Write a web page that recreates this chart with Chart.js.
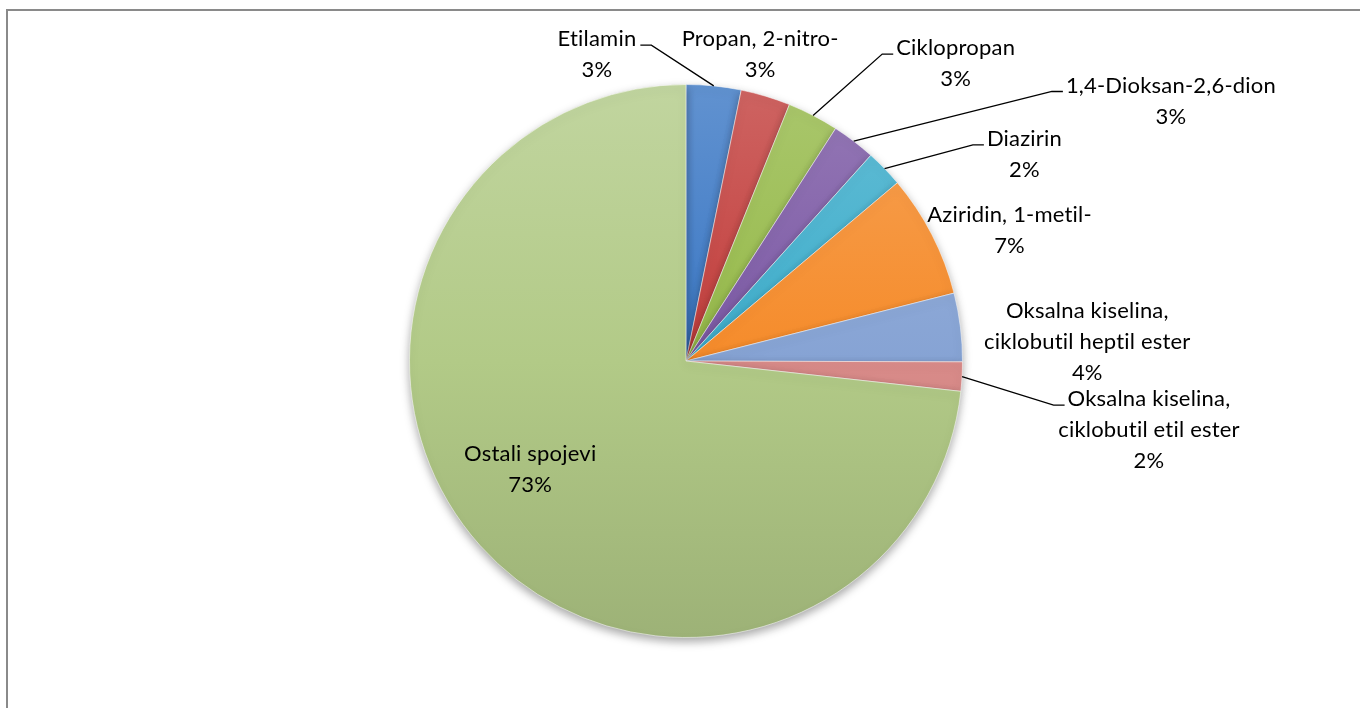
<!DOCTYPE html>
<html>
<head>
<meta charset="utf-8">
<script src="https://cdn.jsdelivr.net/npm/chart.js@4/dist/chart.umd.min.js"></script>
<style>
  body { margin: 0; background: #fff; }
  #okvir { position: absolute; left: 6px; top: 9px; width: 1360px; height: 708px;
           border-top: 2px solid #8a8a8a; border-left: 2px solid #8a8a8a; }
  #pieChart { position: absolute; left: 0; top: 0; }
</style>
</head>
<body>
<div id="okvir"></div>
<canvas id="pieChart" width="1360" height="708"></canvas>
<script>
// Podaci (udio spojeva, %)
const spojevi = [
    "Etilamin",
    "Propan, 2-nitro-",
    "Ciklopropan",
    "1,4-Dioksan-2,6-dion",
    "Diazirin",
    "Aziridin, 1-metil-",
    "Oksalna kiselina,\nciklobutil heptil ester",
    "Oksalna kiselina,\nciklobutil etil ester",
    "Ostali spojevi"
];
const udjeli = [3.2, 2.9, 3.0, 2.55, 2.2, 7.2, 4.0, 1.7, 73.25];

const boje = ["#3a77c4", "#c23d3b", "#95b948", "#7b58a4", "#3dadcb", "#f58b2a", "#86a3d4", "#d98b89", "#b2ca87"];

// Polozaj natpisa: kut (stupnjevi od vrha, u smjeru kazaljke), udaljenost (x radijus), crta vodilica
const natpisKut = [-16.2, 13.6, 42.2, 61.8, 58.6, 68.0, 87.3, 98.5, 235.1];
const natpisUdaljenost = [1.154, 1.14, 1.452, 1.99, 1.434, 1.262, 1.453, 1.693, 0.687];
const natpisCrta = [true, false, true, true, true, false, false, true, false];

const FONT = '22px Lato, "Open Sans", sans-serif';
const RAZMAK = 31;

// svjetlije / tamnije
function nijansa(hex, f) {
    const n = parseInt(hex.slice(1), 16);
    let r = (n >> 16) & 255, g = (n >> 8) & 255, b = n & 255;
    if (f > 0) {
        r += (255 - r) * f; g += (255 - g) * f; b += (255 - b) * f;
    } else {
        r *= 1 + f; g *= 1 + f; b *= 1 + f;
    }
    return `rgb(${Math.round(r)},${Math.round(g)},${Math.round(b)})`;
}

const sjenaPlugin = {
    id: 'sjena',
    beforeDatasetDraw(chart) {
        const ctx = chart.ctx;
        ctx.save();
        ctx.shadowColor = 'rgba(0,0,0,0.35)';
        ctx.shadowBlur = 10;
        ctx.shadowOffsetY = 4;
    },
    afterDatasetDraw(chart) {
        chart.ctx.restore();
    }
};

const natpisPlugin = {
    id: 'natpisi',
    afterDatasetsDraw(chart) {
        const ctx = chart.ctx;
        const meta = chart.getDatasetMeta(0);
        const ukupno = udjeli.reduce((a, b) => a + b, 0);

        ctx.save();
        ctx.font = FONT;
        if ('letterSpacing' in ctx) ctx.letterSpacing = '0.2px'; // bez "ti" ligature
        ctx.fillStyle = '#000';
        ctx.textAlign = 'center';
        ctx.textBaseline = 'middle';
        ctx.strokeStyle = '#000';
        ctx.lineWidth = 1.3;

        meta.data.forEach((arc, i) => {
            const r = arc.outerRadius;
            const kut = natpisKut[i] * Math.PI / 180;
            const cx = arc.x + Math.sin(kut) * natpisUdaljenost[i] * r;
            const cy = arc.y - Math.cos(kut) * natpisUdaljenost[i] * r;

            const linije = spojevi[i].split('\n');
            linije.push(Math.round(udjeli[i] / ukupno * 100) + '%');
            const y0 = cy - (linije.length - 1) * RAZMAK / 2;
            linije.forEach((t, k) => ctx.fillText(t, cx, y0 + k * RAZMAK));

            if (natpisCrta[i]) {
                const sred = (arc.startAngle + arc.endAngle) / 2;
                const ex = arc.x + Math.cos(sred) * r;
                const ey = arc.y + Math.sin(sred) * r;
                const sirina = ctx.measureText(linije[0]).width;
                const ly = y0 + 6;
                ctx.beginPath();
                if (cx > ex) {
                    const lx = cx - sirina / 2 - 3;
                    ctx.moveTo(lx, ly);
                    ctx.lineTo(lx - 11, ly);
                } else {
                    const lx = cx + sirina / 2 + 4;
                    ctx.moveTo(lx, ly);
                    ctx.lineTo(lx + 11, ly);
                }
                ctx.lineTo(ex, ey);
                ctx.stroke();
            }
        });
        ctx.restore();
    }
};

function gradijent(context) {
    const chart = context.chart;
    const boja = boje[context.dataIndex];
    if (!chart.chartArea) return boja;
    const { top, bottom } = chart.chartArea;
    const g = chart.ctx.createLinearGradient(0, top, 0, bottom);
    g.addColorStop(0, nijansa(boja, 0.2));
    g.addColorStop(0.5, boja);
    g.addColorStop(1, nijansa(boja, -0.12));
    return g;
}

new Chart(document.getElementById('pieChart'), {
    type: 'pie',
    data: {
        labels: spojevi,
        datasets: [{
            data: udjeli,
            backgroundColor: gradijent,
            borderColor: 'rgba(255,255,255,0.5)',
            borderWidth: 1
        }]
    },
    options: {
        responsive: false,
        animation: false,
        layout: { padding: { top: 84, bottom: 70, left: 409, right: 397 } },
        plugins: {
            legend: { display: false },
            tooltip: { enabled: false }
        }
    },
    plugins: [sjenaPlugin, natpisPlugin]
});
</script>
</body>
</html>
